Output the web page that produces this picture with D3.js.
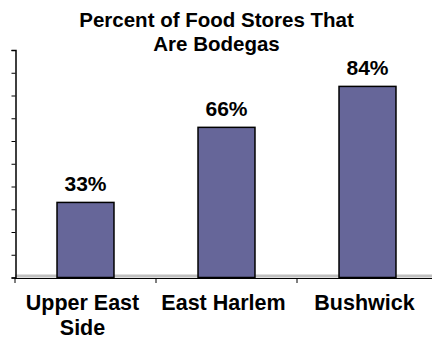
<!DOCTYPE html>
<html>
<head>
<meta charset="utf-8">
<script src="https://cdn.jsdelivr.net/npm/d3@7"></script>
<style>
  body { margin: 0; background: #fff; }
  text { font-family: "Liberation Sans", Arial, sans-serif; font-weight: bold; fill: #000; }
</style>
</head>
<body>
<div id="chart"></div>
<script>
// data
var neighborhoods = ["Upper East Side", "East Harlem", "Bushwick"];
var labelLines = [["Upper East", "Side"], ["East Harlem"], ["Bushwick"]];
var percents = [33, 66, 84];
var titleLines = ["Percent of Food Stores That", "Are Bodegas"];
var yTicks = [0, 10, 20, 30, 40, 50, 60, 70, 80, 90, 100];

var width = 432, height = 339;
var svg = d3.select("#chart").append("svg")
  .attr("width", width)
  .attr("height", height);

var x = d3.scaleBand()
  .domain(neighborhoods)
  .range([15, 438])
  .paddingInner(0.596)
  .paddingOuter(0.298);

var y = d3.scaleLinear()
  .domain([0, 100])
  .range([277.5, 50]);

// title
svg.append("text")
  .attr("text-anchor", "middle")
  .style("font-size", "20.5px")
  .selectAll("tspan")
  .data(titleLines)
  .enter()
  .append("tspan")
  .attr("x", 216.5)
  .attr("y", function (d, i) { return 27 + i * 24; })
  .text(function (d) { return d; });

// grey floor
svg.append("rect")
  .attr("x", 15)
  .attr("y", 274.5)
  .attr("width", width - 15)
  .attr("height", 3)
  .attr("fill", "#c0c0c0");

// y axis
var gy = svg.append("g")
  .attr("transform", "translate(15.5,0)")
  .call(d3.axisLeft(y).tickValues(yTicks).tickSize(4).tickFormat(""));
gy.select(".domain").attr("stroke", "#000").attr("stroke-width", 1.5);
gy.selectAll(".tick line").attr("stroke", "#000");

// bars
svg.selectAll(".bar")
  .data(percents)
  .enter()
  .append("rect")
  .attr("class", "bar")
  .attr("x", function (d, i) { return x(neighborhoods[i]); })
  .attr("y", function (d) { return y(d); })
  .attr("width", x.bandwidth())
  .attr("height", function (d) { return y(0) - y(d); })
  .attr("fill", "#666699")
  .attr("stroke", "#000")
  .attr("stroke-width", 1.5);

// value labels
svg.selectAll(".label")
  .data(percents)
  .enter()
  .append("text")
  .attr("class", "label")
  .attr("text-anchor", "middle")
  .style("font-size", "21px")
  .attr("x", function (d, i) { return x(neighborhoods[i]) + x.bandwidth() / 2; })
  .attr("y", function (d) { return y(d) - 11; })
  .text(function (d) { return d + "%"; });

// x axis line + ticks
svg.append("line")
  .attr("x1", 15).attr("x2", width)
  .attr("y1", 278.5).attr("y2", 278.5)
  .attr("stroke", "#000").attr("stroke-width", 1.2);

svg.selectAll(".xtick")
  .data(neighborhoods)
  .enter()
  .append("line")
  .attr("class", "xtick")
  .attr("x1", function (d) { return x(d) - x.step() * x.paddingInner() / 2; })
  .attr("x2", function (d) { return x(d) - x.step() * x.paddingInner() / 2; })
  .attr("y1", 278).attr("y2", 283)
  .attr("stroke", "#000");

// category labels
var cat = svg.selectAll(".cat")
  .data(neighborhoods)
  .enter()
  .append("text")
  .attr("class", "cat")
  .attr("text-anchor", "middle")
  .style("font-size", "21.5px");

cat.selectAll("tspan")
  .data(function (d, i) { return labelLines[i].map(function (l) { return { l: l, c: d }; }); })
  .enter()
  .append("tspan")
  .attr("x", function (d) { return x(d.c) + x.bandwidth() / 2 - 3; })
  .attr("y", function (d, i) { return 310 + i * 25; })
  .text(function (d) { return d.l; });
</script>
</body>
</html>
